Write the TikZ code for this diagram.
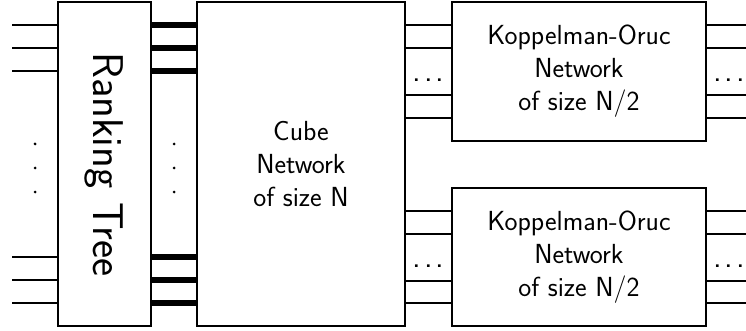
\documentclass[tikz,border=0pt]{standalone}
\usepackage{fontspec}
\begin{document}
\begin{tikzpicture}[x=1pt,y=-1pt,
  box/.style={draw,line width=1.6pt,inner sep=0pt,font=\sffamily\fontsize{27.6}{33}\selectfont,align=center},
  wire/.style={line width=1.6pt},
  bus/.style={line width=5.5pt},
  hdots/.style={font=\sffamily\fontsize{33}{33}\selectfont,anchor=base,inner sep=0pt},
  vdot/.style={fill,circle,inner sep=0pt,minimum size=3pt}]
\useasboundingbox (0,0) rectangle (746,331);
% boxes
\node[box,minimum width=93pt,minimum height=324pt] (rank) at (104.5,164) {};
\node[font=\sffamily\fontsize{43}{43}\selectfont,rotate=-90] (ranktxt) at (rank.center) {Ranking Tree};
\node[box,minimum width=208pt,minimum height=324pt] (cube) at (301,164) {Cube\\Network\\of size N};
\node[box,minimum width=254pt,minimum height=139pt] (ko1) at (579,71.5) {Koppelman-Oruc\\Network\\of size N/2};
\node[box,minimum width=254pt,minimum height=138pt] (ko2) at (579,257) {Koppelman-Oruc\\Network\\of size N/2};
% levels
\coordinate (inL) at (12,0);
\coordinate (outR) at (746,0);
\foreach \y in {25,48,71,257,280,303}{
  \coordinate (l) at (0,\y);
  \draw[wire] (rank.west |- l) -- (inL |- l);
  \draw[bus] (rank.east |- l) -- (cube.west |- l);
}
\foreach \y in {25,48,95,118}{
  \coordinate (l) at (0,\y);
  \draw[wire] (cube.east |- l) -- (ko1.west |- l);
  \draw[wire] (ko1.east |- l) -- (outR |- l);
}
\foreach \y in {211,234,281,303}{
  \coordinate (l) at (0,\y);
  \draw[wire] (cube.east |- l) -- (ko2.west |- l);
  \draw[wire] (ko2.east |- l) -- (outR |- l);
}
% vertical dots
\foreach \y/\n in {144/a,168/b,192/c}{
  \node[vdot] (dl\n) at (35,\y) {};
  \node[vdot] (dm\n) at (174,\y) {};
}
% horizontal dots
\node[hdots] (h1) at (428.5,81.5) {.\kern3pt.\kern3pt.};
\node[hdots] (h2) at (428.5,267.5) {.\kern3pt.\kern3pt.};
\node[hdots] (h3) at (729,81.5) {.\kern3pt.\kern3pt.};
\node[hdots] (h4) at (729,267.5) {.\kern3pt.\kern3pt.};
\end{tikzpicture}
\end{document}
